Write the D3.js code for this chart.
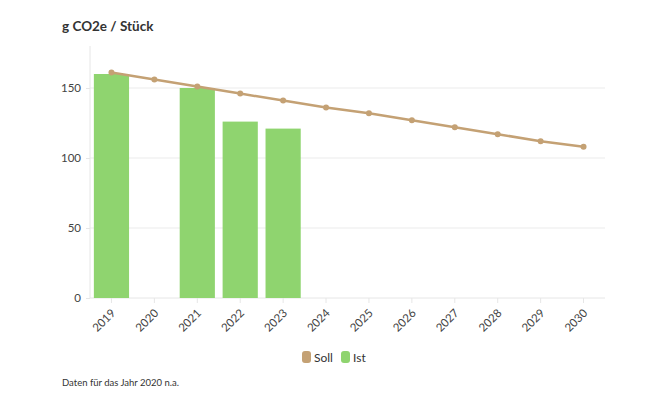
<!DOCTYPE html>
<html><head><meta charset="utf-8">
<script src="https://cdn.jsdelivr.net/npm/d3@7"></script>
<style>body{margin:0;background:#fff;font-family:Lato,"Open Sans",sans-serif;}</style>
</head><body><svg id="c" width="650" height="393"></svg>
<script>
const years = ["2019","2020","2021","2022","2023","2024","2025","2026","2027","2028","2029","2030"];
const istValues = [160, null, 150, 126, 121, null, null, null, null, null, null, null];
const sollValues = [161, 156, 151, 146, 141, 136, 132, 127, 122, 117, 112, 108];
const yTicks = [0, 50, 100, 150];
const title = "g CO2e / Stück";
const footnote = "Daten für das Jahr 2020 n.a.";
const legendLabels = ["Soll", "Ist"];

const svg = d3.select("#c");
const m = {l: 90, r: 45, t: 46, b: 95};
const W = 650, H = 393;
const x = d3.scaleBand().domain(years).range([m.l, W - m.r]).paddingInner(0.18).paddingOuter(0.09);
const y = d3.scaleLinear().domain([0, 180]).range([H - m.b, m.t]);
const sollC = "#c4a174", istC = "#8fd46f";

svg.append("text").attr("x", 62).attr("y", 31).text(title)
  .style("font-weight", "700").style("font-size", "13.5px").attr("fill", "#333");

// gridlines
svg.append("g").selectAll("line").data(yTicks.filter(d => d > 0)).join("line")
  .attr("x1", m.l).attr("x2", W - m.r).attr("y1", d => y(d)).attr("y2", d => y(d))
  .attr("stroke", "#ebebeb").attr("stroke-width", 1);

// y axis
const ya = svg.append("g").attr("transform", `translate(${m.l},0)`)
  .call(d3.axisLeft(y).tickValues(yTicks).tickSize(5).tickPadding(4));
ya.select(".domain").attr("stroke", "#e6e6e6").attr("d", `M0,${m.t}V${H - m.b}`);
ya.selectAll(".tick line").attr("stroke", "#e6e6e6").attr("x1", -4).attr("x2", 0);
ya.selectAll("text").attr("fill", "#444").style("font-size", "11.5px").style("font-family", "Lato,sans-serif");

// x axis
const xa = svg.append("g").attr("transform", `translate(0,${H - m.b})`)
  .call(d3.axisBottom(x).tickSize(5).tickSizeOuter(0));
xa.select(".domain").attr("stroke", "#e6e6e6").attr("d", `M${m.l},0H${W - m.r}`);
xa.selectAll(".tick line").attr("stroke", "#e6e6e6");
xa.selectAll("text").attr("fill", "#444").style("font-size", "11.5px").style("font-family", "Lato,sans-serif")
  .attr("text-anchor", "end").attr("transform", "translate(-5,6) rotate(-45)").attr("dy", "0.5em").attr("dx", "0");

// bars
const barData = years.map((yr, i) => ({yr, v: istValues[i]})).filter(d => d.v != null);
svg.append("g").selectAll("rect").data(barData).join("rect")
  .attr("x", d => x(d.yr)).attr("width", x.bandwidth())
  .attr("y", d => y(d.v)).attr("height", d => y(0) - y(d.v)).attr("fill", istC);

// line
const ld = years.map((yr, i) => ({yr, v: sollValues[i]}));
const line = d3.line().x(d => x(d.yr) + x.bandwidth() / 2).y(d => y(d.v));
svg.append("path").datum(ld).attr("d", line).attr("fill", "none").attr("stroke", sollC).attr("stroke-width", 2.5);
svg.append("g").selectAll("circle").data(ld).join("circle")
  .attr("cx", d => x(d.yr) + x.bandwidth() / 2).attr("cy", d => y(d.v)).attr("r", 3).attr("fill", sollC);

// legend
const lg = svg.append("g").attr("transform", "translate(302,351)");
const items = [{t: legendLabels[0], c: sollC, dx: 0}, {t: legendLabels[1], c: istC, dx: 39}];
items.forEach(it => {
  lg.append("rect").attr("x", it.dx).attr("y", 0).attr("width", 9).attr("height", 12).attr("rx", 3).attr("fill", it.c);
  lg.append("text").attr("x", it.dx + 12).attr("y", 10.5).text(it.t).style("font-size", "12px").attr("fill", "#333");
});

svg.append("text").attr("x", 62).attr("y", 386).text(footnote).style("font-size", "9.5px").attr("fill", "#333");
</script></body></html>
